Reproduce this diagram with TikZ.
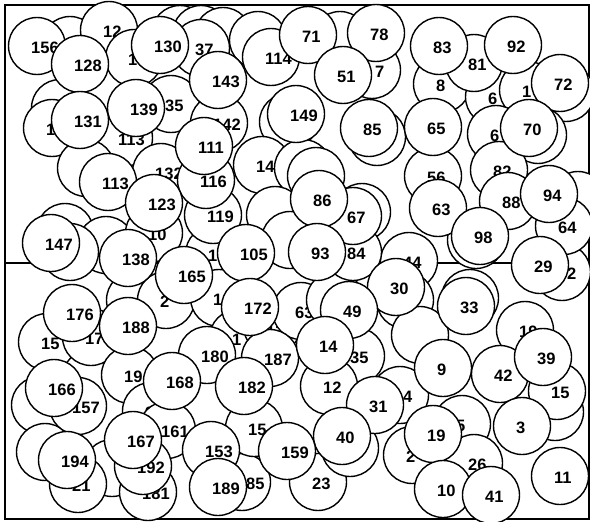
\documentclass[tikz,border=0pt]{standalone}
\usepackage{fontspec}
\setmainfont{Liberation Sans}

\begin{document}
\begin{tikzpicture}[x=1pt,y=-1pt,
    disc/.style={circle, draw, fill=white, line width=1.4pt, minimum size=57pt, inner sep=0pt},
    num/.style={anchor=west, inner sep=0pt, font=\bfseries\fontsize{16.5}{16.5}\selectfont}]
    \useasboundingbox (0,0) rectangle (590,522);
    % Draw the frame and the divider
    \draw[line width=1.6pt] (5,5) rectangle (589,519);
    \draw[line width=1.3pt] (5,263) -- (589,263);
    % Draw the hidden discs (label shifted by \s)
    \foreach \x/\y/\t/\s [count=\i] in {
        70/45//0, 37/46/156/0, 109/30/12/0, 60/108//0, 52/128/1/0, 134/58/1/0,
        180/34//0, 201/34//0, 223/36/2/0, 201/48/37/0, 258/40//0, 340/40//0,
        372/70/7/9, 442/84/8/0, 494/97/6/0, 528/90/1/0, 566/93//0, 496/134/6/0,
        538/135//0, 377/137//0, 288/122//0, 171/104/35/0, 219/123/142/0,
        106/140/1/0, 124/138/113/0, 86/168//0, 161/172/132/0, 262/165/14/0,
        303/168//0, 316/176//0, 275/215//0, 474/63/81/0,
        65/232//0, 106/245//0, 70/252//0, 135/300//0, 166/300/2/0, 154/233/10/0,
        214/254/1/0, 219/298/1/0, 238/338/1/0, 272/326/156/0, 301/311/63/0,
        335/300//0, 270/358/187/0, 356/356/35/0, 400/395/4/9, 409/261/44/0,
        405/300//0, 470/298//0, 420/335//0, 499/170/82/0, 433/176/56/0,
        362/212//0, 290/240//0, 476/240//0, 562/272/2/11, 578/200//0,
        525/330/19/0, 47/342/15/0, 91/337/17/0, 40/405//0, 130/375/19/0,
        45/452//0, 112/468//0, 78/484/21/0, 151/411/95/0, 167/430/161/0,
        148/492/181/0, 143/466/192/0, 242/482/85/10, 254/428/15/0, 318/482/23/0,
        350/448//0, 412/455/2/0, 462/424/5/0, 474/463/26/0, 555/412//0,
        108/182/113/0, 78/406/157/0, 213/215/119/0, 206/180/116/0,
        353/252/84/0, 353/216/67/0} {
        \node[disc] (b\i) at (\x,\y) {};
        \node[num] (bt\i) at ([xshift={\s pt-6pt},yshift=-2pt]b\i.center) {\t};
    }
    % Draw the discs on top
    \foreach \x/\y/\t [count=\i] in {
        80/64/128, 160/45/130, 218/80/143, 271/57/114, 308/35/71, 376/33/78,
        343/75/51, 439/46/83, 513/45/92, 560/83/72, 433/127/65, 369/128/85,
        296/114/149, 529/128/70, 80/120/131, 136/108/139, 204/146/111,
        154/203/123, 51/243/147, 128/258/138, 184/275/165, 246/253/105,
        319/199/86, 317/252/93, 438/208/63, 508/201/88, 480/236/98,
        564/226/64, 549/194/94, 540/265/29, 396/287/30, 466/306/33,
        349/310/49, 329/386/12, 325/345/14, 375/405/31, 342/436/40,
        250/307/172, 72/313/176, 128/326/188, 207/355/180, 172/381/168,
        244/386/182, 443/368/9, 557/391/15, 500/374/42, 543/357/39,
        522/426/3, 54/388/166, 133/440/167, 211/450/153, 218/487/189,
        287/451/159, 433/434/19, 443/489/10, 491/495/41, 560/476/11,
        67/460/194} {
        \node[disc] (d\i) at (\x,\y) {};
        \node[num] (dt\i) at ([xshift=-6pt,yshift=-2pt]d\i.center) {\t};
    }
\end{tikzpicture}
\end{document}
